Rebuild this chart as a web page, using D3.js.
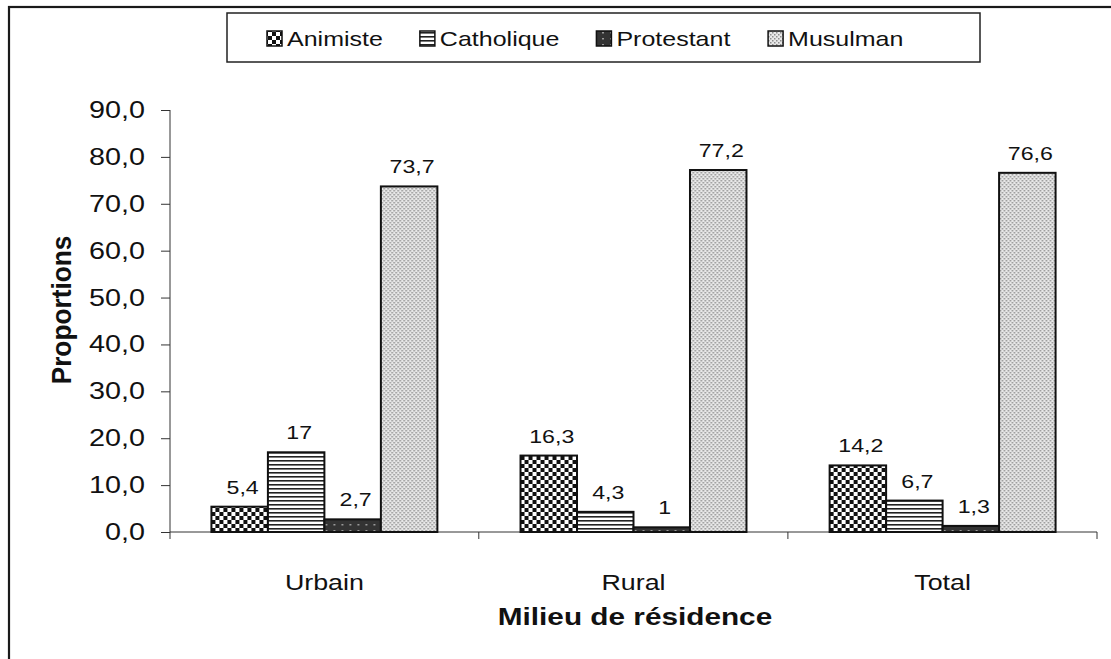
<!DOCTYPE html>
<html><head><meta charset="utf-8">
<script src="https://cdn.jsdelivr.net/npm/d3@7"></script>
<style>
html,body{margin:0;padding:0;background:#fff;}
svg{display:block;font-family:"Liberation Sans",Arial,sans-serif;}
</style></head>
<body>
<svg id="c" width="1111" height="659"></svg>
<script>
const categories = ["Urbain", "Rural", "Total"];
const series = ["Animiste", "Catholique", "Protestant", "Musulman"];
const animiste   = [5.4, 16.3, 14.2];
const catholique = [17, 4.3, 6.7];
const protestant = [2.7, 1, 1.3];
const musulman   = [73.7, 77.2, 76.6];
const valueLabels = [["5,4","17","2,7","73,7"],["16,3","4,3","1","77,2"],["14,2","6,7","1,3","76,6"]];
const yTicks = [0,10,20,30,40,50,60,70,80,90];
const yTitle = "Proportions";
const xTitle = "Milieu de résidence";

const values = [animiste, catholique, protestant, musulman];
const SX = 1.22;
const svg = d3.select("#c");
const defs = svg.append("defs");

// patterns
const pA = defs.append("pattern").attr("id","pA").attr("patternUnits","userSpaceOnUse").attr("width",8).attr("height",8);
pA.append("rect").attr("width",8).attr("height",8).attr("fill","#fff");
pA.append("rect").attr("width",4).attr("height",4).attr("fill","#111");
pA.append("rect").attr("x",4).attr("y",4).attr("width",4).attr("height",4).attr("fill","#111");

const pC = defs.append("pattern").attr("id","pC").attr("patternUnits","userSpaceOnUse").attr("width",8).attr("height",4);
pC.append("rect").attr("width",8).attr("height",4).attr("fill","#fff");
pC.append("rect").attr("y",0).attr("width",8).attr("height",1.6).attr("fill","#222");

const pP = defs.append("pattern").attr("id","pP").attr("patternUnits","userSpaceOnUse").attr("width",8).attr("height",6);
pP.append("rect").attr("width",8).attr("height",6).attr("fill","#333");
pP.append("rect").attr("x",2).attr("y",2).attr("width",2).attr("height",1.5).attr("fill","#999");

const pM = defs.append("pattern").attr("id","pM").attr("patternUnits","userSpaceOnUse").attr("width",4).attr("height",4);
pM.append("rect").attr("width",4).attr("height",4).attr("fill","#e8e8e8");
pM.append("rect").attr("x",0).attr("y",0).attr("width",1.5).attr("height",1.5).attr("fill","#8e8e8e");
pM.append("rect").attr("x",2).attr("y",2).attr("width",1.5).attr("height",1.5).attr("fill","#8e8e8e");

const fills = ["url(#pA)","url(#pC)","url(#pP)","url(#pM)"];

// outer frame
svg.append("rect").attr("x",9).attr("y",7).attr("width",1200).attr("height",700)
  .attr("fill","none").attr("stroke","#1a1a1a").attr("stroke-width",2.2);

function stext(g, x, y, str, size, anchor, weight, sx){
  return g.append("text").attr("transform",`translate(${x},${y}) scale(${sx||SX},1)`)
    .attr("text-anchor",anchor).attr("font-size",size).attr("font-weight",weight||"normal")
    .attr("fill","#111").text(str);
}

const y = d3.scaleLinear().domain([0,90]).range([532,110]);
const x0 = d3.scaleBand().domain(categories).range([170,1097]).paddingInner(0.269).paddingOuter(0.134);
const x1 = d3.scaleBand().domain(series).range([0,x0.bandwidth()]).padding(0);

// y axis
const yAxis = d3.axisLeft(y).tickValues(yTicks).tickSize(9).tickPadding(15)
  .tickFormat(d => d3.format(".1f")(d).replace(".",","));
const gy = svg.append("g").attr("transform","translate(170,0)").call(yAxis);
gy.select(".domain").attr("stroke","#333").attr("d","M0,110V539");
gy.selectAll(".tick line").attr("stroke","#333");
gy.selectAll(".tick text").remove();
yTicks.forEach(t => stext(gy, -25, y(t)+8, d3.format(".1f")(t).replace(".",","), 23, "end", "normal", 1.25));

// x axis
const gx = svg.append("g");
gx.append("line").attr("x1",170).attr("x2",1097).attr("y1",y(0)).attr("y2",y(0)).attr("stroke","#333");
const bounds = categories.map(c => x0(c) + x0.bandwidth() + x0.step()*0.134);
bounds.forEach(b => gx.append("line").attr("x1",b).attr("x2",b).attr("y1",y(0)).attr("y2",y(0)+7).attr("stroke","#333"));
categories.forEach(c => stext(gx, x0(c)+x0.bandwidth()/2, 590, c, 22, "middle"));

// bars
categories.forEach((c, ci) => {
  const g = svg.append("g").attr("transform",`translate(${x0(c)},0)`);
  series.forEach((s, si) => {
    const v = values[si][ci];
    g.append("rect").attr("x",x1(s)).attr("y",y(v)).attr("width",x1.bandwidth()).attr("height",y(0)-y(v))
      .attr("fill",fills[si]).attr("stroke","#111").attr("stroke-width",2);
    stext(g, x1(s)+x1.bandwidth()/2+3, y(v)-13, valueLabels[ci][si], 19, "middle");
  });
});

// axis titles
stext(svg, 635, 625, xTitle, 24, "middle", "bold", 1.24);
svg.append("text").attr("transform",`translate(71,310) rotate(-90) scale(1.05,1.1)`)
  .attr("text-anchor","middle").attr("font-size",25).attr("font-weight","bold").attr("fill","#111").text(yTitle);

// legend
const lg = svg.append("g");
lg.append("rect").attr("x",227).attr("y",13).attr("width",753).attr("height",49)
  .attr("fill","#fff").attr("stroke","#222").attr("stroke-width",1.5);
let lx = 267;
series.forEach((s, si) => {
  lg.append("rect").attr("x",lx).attr("y",31).attr("width",15).attr("height",15)
    .attr("fill",fills[si]).attr("stroke","#111").attr("stroke-width",1.5);
  const t = stext(lg, lx+20, 46, s, 20.5, "start");
  const w = t.node().getBBox().width*SX;
  lx += 20 + w + 37;
});
</script>
</body></html>
